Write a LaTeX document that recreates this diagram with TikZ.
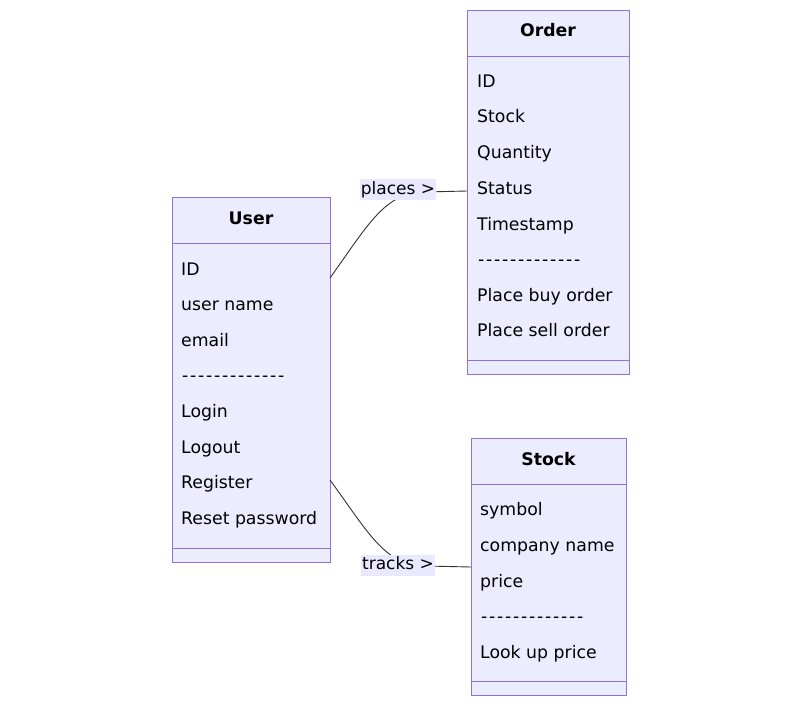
\documentclass[tikz,border=0pt]{standalone}
\usepackage{fontspec}
\setmainfont{DejaVu Sans}
\definecolor{boxfill}{HTML}{ECECFF}
\definecolor{boxline}{HTML}{9370DB}
\definecolor{edgecol}{HTML}{333333}
\definecolor{lblfill}{HTML}{E8E8FF}
\newcommand{\dsh}{\makebox[8pt]{-}}
\newcommand{\dashrow}{\dsh\dsh\dsh\dsh\dsh\dsh\dsh\dsh\dsh\dsh\dsh\dsh\dsh}
\begin{document}
\begin{tikzpicture}[x=1pt,y=-1pt,
  cls/.style={draw=boxline,fill=boxfill,line width=0.9pt},
  member/.style={anchor=west,inner sep=0pt,text height=12pt,text depth=4pt,font=\fontsize{17.3}{19}\selectfont,text=black},
  title/.style={inner sep=0pt,text height=12pt,text depth=4pt,font=\fontsize{17.3}{19}\selectfont\bfseries,text=black},
  lbl/.style={fill=lblfill,inner xsep=1pt,inner ysep=2.5pt,text height=12pt,text depth=4pt,font=\fontsize{17}{19}\selectfont,text=black},
  conn/.style={draw=edgecol,line width=0.9pt}]
\useasboundingbox (0,0) rectangle (801,706);
% User
\draw[cls] (172,197) rectangle (330,562);
\draw[boxline,line width=0.9pt] (172,243) -- (330,243) (172,548) -- (330,548);
\node[title] (usert) at (251,220) {User};
\node[member] (u1) at (181,271) {ID};
\node[member] (u2) at (181,306) {user name};
\node[member] (u3) at (181,342) {email};
\node[member] (u4) at (181,377) {\dashrow};
\node[member] (u5) at (181,413) {Login};
\node[member] (u6) at (181,449) {Logout};
\node[member] (u7) at (181,484) {Register};
\node[member] (u8) at (181,520) {Reset password};
% Order
\draw[cls] (467,10) rectangle (629,374);
\draw[boxline,line width=0.9pt] (467,56) -- (629,56) (467,360) -- (629,360);
\node[title] (ordert) at (548,33) {Order};
\node[member] (o1) at (477,84) {ID};
\node[member] (o2) at (477,119) {Stock};
\node[member] (o3) at (477,155) {Quantity};
\node[member] (o4) at (477,190) {Status};
\node[member] (o5) at (477,226) {Timestamp};
\node[member] (o6) at (477,261) {\dashrow};
\node[member] (o7) at (477,297) {Place buy order};
\node[member] (o8) at (477,332) {Place sell order};
% Stock
\draw[cls] (471,438) rectangle (626,695);
\draw[boxline,line width=0.9pt] (471,484) -- (626,484) (471,681) -- (626,681);
\node[title] (stockt) at (548.5,461) {Stock};
\node[member] (s1) at (480,511) {symbol};
\node[member] (s2) at (480,547) {company name};
\node[member] (s3) at (480,583) {price};
\node[member] (s4) at (480,618) {\dashrow};
\node[member] (s5) at (480,654) {Look up price};
% connectors
\coordinate (ua) at (330,278);
\coordinate (oa) at (467,191);
\coordinate (ub) at (330,480);
\coordinate (sb) at (471,567);
\coordinate (pm) at (425,192);
\coordinate (tm) at (425,566);
\draw[conn] (ua) .. controls (368,225) and (385,192) .. (pm) -- (oa);
\draw[conn] (ub) .. controls (368,532) and (385,566) .. (tm) -- (sb);
\node[lbl] (places) at (398,190) {places >};
\node[lbl] (tracks) at (398,565) {tracks >};
\end{tikzpicture}
\end{document}
